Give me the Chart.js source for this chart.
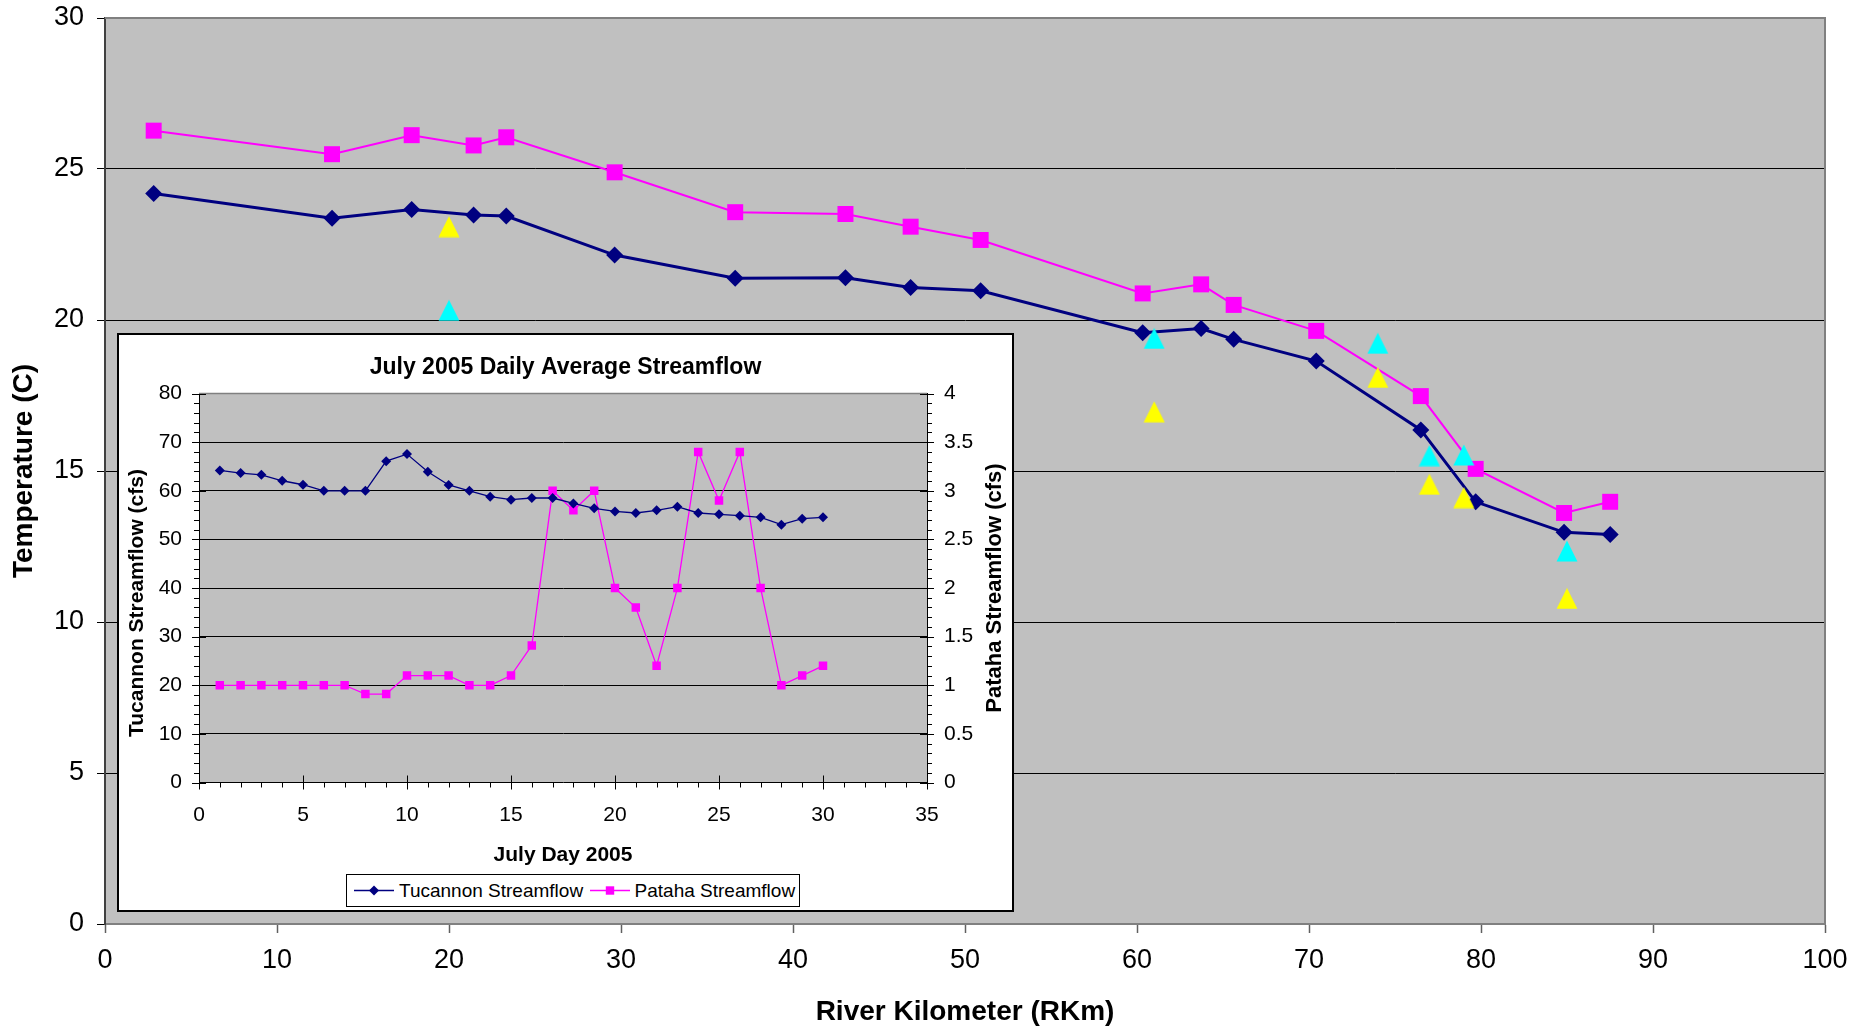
<!DOCTYPE html>
<html>
<head>
<meta charset="utf-8">
<script src="https://cdn.jsdelivr.net/npm/chart.js@4.4.1/dist/chart.umd.min.js"></script>
<style>
  html, body { margin: 0; padding: 0; background: #fff; }
  #wrap { position: relative; width: 1862px; height: 1030px; overflow: hidden; }
  #main { position: absolute; left: 0; top: 0; display: block; }
  #inset { position: absolute; left: 117px; top: 333px; width: 893px; height: 575px; border: 2px solid #000; background: #fff; }
  #sub { position: absolute; left: 0; top: 0; display: block; }
  #lg { position: absolute; left: 227px; top: 539px; width: 452px; height: 31px; border: 1px solid #000; background: #fff;
        font: 19px 'Liberation Sans', Arial, sans-serif; color: #000; }
  #lg svg { position: absolute; top: 0; }
  #lg span { position: absolute; top: 0; line-height: 31px; white-space: nowrap; }
</style>
</head>
<body>
<div id="wrap">
  <canvas id="main" width="1862" height="1030"></canvas>
  <div id="inset">
    <canvas id="sub" width="893" height="575"></canvas>
    <div id="lg"></div>
  </div>
</div>
<script>
// ---------------- Main chart data ----------------
const rkm       = [2.83, 13.2, 17.83, 21.43, 23.33, 29.63, 36.64, 43.05, 46.84, 50.91, 60.33, 63.73, 65.62, 70.42, 76.5, 79.69, 84.83, 87.51];
const tempPink  = [26.27, 25.49, 26.12, 25.78, 26.05, 24.89, 23.57, 23.51, 23.09, 22.65, 20.88, 21.18, 20.5, 19.64, 17.48, 15.07, 13.61, 13.98];
const tempNavy  = [24.19, 23.37, 23.66, 23.48, 23.44, 22.15, 21.38, 21.40, 21.08, 20.97, 19.58, 19.72, 19.36, 18.64, 16.36, 13.98, 12.97, 12.90];
const triRkm    = [20, 61, 74, 77, 79, 85];
const tempYellow = [23.09, 16.96, 18.10, 14.56, 14.12, 10.78];
const tempCyan   = [20.32, 19.39, 19.23, 15.51, 15.53, 12.35];
const mainXTitle = 'River Kilometer (RKm)';
const mainYTitle = 'Temperature (C)';

// ---------------- Inset chart data ----------------
const julyDays     = [1,2,3,4,5,6,7,8,9,10,11,12,13,14,15,16,17,18,19,20,21,22,23,24,25,26,27,28,29,30];
const tucannonFlow = [64.2, 63.65, 63.3, 62.07, 61.25, 60, 60, 60, 66.1, 67.55, 63.92, 61.2, 60, 58.8, 58.17, 58.52, 58.52, 57.4, 56.4, 55.77, 55.44, 56.0, 56.73, 55.44, 55.17, 54.89, 54.55, 53.04, 54.27, 54.55];
const patahaFlow   = [1, 1, 1, 1, 1, 1, 1, 0.91, 0.91, 1.1, 1.1, 1.1, 1, 1, 1.1, 1.41, 3, 2.8, 3, 2, 1.8, 1.2, 2, 3.4, 2.9, 3.4, 2, 1, 1.1, 1.2];
const insetTitle   = 'July 2005 Daily Average Streamflow';
const insetXTitle  = 'July Day 2005';
const insetYTitle  = 'Tucannon Streamflow (cfs)';
const insetY1Title = 'Pataha Streamflow (cfs)';
const seriesNames  = ['Tucannon Streamflow', 'Pataha Streamflow'];

const FONT = "'Liberation Sans', Arial, sans-serif";
const NAVY = '#000080', MAG = '#FF00FF';

function triImg(color) {
  const c = document.createElement('canvas');
  c.width = 22; c.height = 22;
  const g = c.getContext('2d');
  g.fillStyle = color;
  g.beginPath();
  g.moveTo(11, 0.5); g.lineTo(21.5, 21.5); g.lineTo(0.5, 21.5);
  g.closePath(); g.fill();
  return c;
}

const plotBg = {
  id: 'plotBg',
  beforeDraw(chart) {
    const a = chart.chartArea, ctx = chart.ctx;
    ctx.save();
    ctx.fillStyle = '#C0C0C0';
    ctx.fillRect(a.left, a.top, a.right - a.left, a.bottom - a.top);
    ctx.restore();
  }
};

const mainBorder = {
  id: 'mainBorder',
  beforeDatasetsDraw(chart) {
    const a = chart.chartArea, ctx = chart.ctx;
    ctx.save();
    ctx.strokeStyle = '#808080';
    ctx.lineWidth = 2;
    ctx.beginPath();
    ctx.moveTo(a.left, a.top); ctx.lineTo(a.right, a.top); ctx.lineTo(a.right, a.bottom);
    ctx.stroke();
    ctx.restore();
  }
};

const pts = (xs, ys) => xs.map((x, i) => ({ x: x, y: ys[i] }));

new Chart(document.getElementById('main'), {
  type: 'scatter',
  data: {
    datasets: [
      { label: 'Series 1', data: pts(rkm, tempPink), showLine: true, borderColor: MAG, borderWidth: 2,
        pointStyle: 'rect', pointRadius: 11.3, pointBackgroundColor: MAG, pointBorderWidth: 0, order: 4 },
      { label: 'Series 2', data: pts(rkm, tempNavy), showLine: true, borderColor: NAVY, borderWidth: 3,
        pointStyle: 'rectRot', pointRadius: 8.5, pointBackgroundColor: NAVY, pointBorderWidth: 0, order: 3 },
      { label: 'Series 3', data: pts(triRkm, tempYellow), showLine: false,
        pointStyle: triImg('#FFFF00'), pointRadius: 10, order: 2 },
      { label: 'Series 4', data: pts(triRkm, tempCyan), showLine: false,
        pointStyle: triImg('#00FFFF'), pointRadius: 10, order: 1 }
    ]
  },
  options: {
    responsive: false,
    animation: false,
    events: [],
    layout: { padding: { top: 18, right: 37, left: 0, bottom: 0 } },
    plugins: { legend: { display: false }, tooltip: { enabled: false } },
    scales: {
      x: {
        type: 'linear', min: 0, max: 100,
        afterFit: s => { s.height = 106; },
        ticks: { stepSize: 10, color: '#000', padding: 11, font: { family: FONT, size: 27 } },
        grid: { drawOnChartArea: false, drawTicks: true, tickLength: 9, tickColor: '#606060', tickWidth: 1.5 },
        border: { display: true, color: '#808080', width: 2 },
        title: { display: true, text: mainXTitle, color: '#000', padding: { top: 0, bottom: 0.5 },
                 font: { family: FONT, size: 28, weight: 'bold' } }
      },
      y: {
        type: 'linear', min: 0, max: 30,
        afterFit: s => { s.width = 105; s.paddingTop = 0; s.paddingBottom = 0; },
        ticks: { stepSize: 5, color: '#000', padding: 13, font: { family: FONT, size: 27 } },
        grid: {
          color: c => (c.tick && (c.tick.value === 0 || c.tick.value === 30)) ? 'rgba(0,0,0,0)' : '#000',
          lineWidth: 1, drawTicks: true, tickLength: 8, tickColor: '#000'
        },
        border: { display: true, color: '#404040', width: 2 },
        title: { display: true, text: mainYTitle, color: '#000', padding: { top: 7, bottom: 0 },
                 font: { family: FONT, size: 28, weight: 'bold' } }
      }
    }
  },
  plugins: [plotBg, mainBorder]
});

// ---------------- Inset ----------------
const insetDecor = {
  id: 'insetDecor',
  beforeDatasetsDraw(chart) {
    const a = chart.chartArea, ctx = chart.ctx;
    ctx.save();
    ctx.strokeStyle = '#808080';
    ctx.lineWidth = 1.5;
    ctx.beginPath();
    ctx.moveTo(a.left, a.top); ctx.lineTo(a.right, a.top);
    ctx.stroke();
    ctx.restore();
  },
  afterDraw(chart) {
    const a = chart.chartArea, ctx = chart.ctx;
    const sx = chart.scales.x, sy = chart.scales.y, sy1 = chart.scales.y1;
    ctx.save();
    ctx.strokeStyle = '#000';
    ctx.lineWidth = 1;
    ctx.beginPath();
    for (let v = 0; v <= 35; v += 1) {
      const p = Math.round(sx.getPixelForValue(v)) + 0.5;
      const major = v % 5 === 0;
      ctx.moveTo(p, a.bottom + (major ? -7 : 0));
      ctx.lineTo(p, a.bottom + (major ? 7 : 5));
    }
    for (let v = 0; v <= 80; v += 2) {
      const p = Math.round(sy.getPixelForValue(v)) + 0.5;
      const major = v % 10 === 0;
      ctx.moveTo(a.left - (major ? 7 : 5), p);
      ctx.lineTo(a.left + (major ? 7 : 0), p);
    }
    for (let i = 0; i <= 40; i++) {
      const v = i / 10;
      const p = Math.round(sy1.getPixelForValue(v)) + 0.5;
      const major = i % 5 === 0;
      ctx.moveTo(a.right - (major ? 7 : 0), p);
      ctx.lineTo(a.right + (major ? 7 : 5), p);
    }
    ctx.stroke();
    // vertical axis titles (both read bottom-to-top)
    ctx.fillStyle = '#000';
    ctx.textAlign = 'center';
    ctx.textBaseline = 'middle';
    const mid = (a.top + a.bottom) / 2;
    ctx.font = "bold 21px " + FONT;
    ctx.save();
    ctx.translate(18.5, mid + 15);
    ctx.rotate(-Math.PI / 2);
    ctx.fillText(insetYTitle, 0, 0);
    ctx.restore();
    ctx.font = "bold 22px " + FONT;
    ctx.translate(876, mid);
    ctx.rotate(-Math.PI / 2);
    ctx.fillText(insetY1Title, 0, 0);
    ctx.restore();
  }
};

const insetChart = new Chart(document.getElementById('sub'), {
  type: 'line',
  data: {
    datasets: [
      { label: seriesNames[0], data: pts(julyDays, tucannonFlow), yAxisID: 'y',
        borderColor: NAVY, borderWidth: 1.3, pointStyle: 'rectRot', pointRadius: 5,
        pointBackgroundColor: NAVY, pointBorderWidth: 0 },
      { label: seriesNames[1], data: pts(julyDays, patahaFlow), yAxisID: 'y1',
        borderColor: MAG, borderWidth: 1.3, pointStyle: 'rect', pointRadius: 6,
        pointBackgroundColor: MAG, pointBorderWidth: 0 }
    ]
  },
  options: {
    responsive: false,
    animation: false,
    events: [],
    layout: { padding: 0 },
    plugins: {
      legend: { display: false }, tooltip: { enabled: false },
      title: { display: true, text: insetTitle, color: '#000', padding: { top: 18.5, bottom: 12.5 },
               font: { family: FONT, size: 23, weight: 'bold' } }
    },
    scales: {
      x: {
        type: 'linear', min: 0, max: 35,
        afterFit: s => { s.height = 127.5; },
        ticks: { stepSize: 5, color: '#000', padding: 20, font: { family: FONT, size: 21 } },
        grid: { drawOnChartArea: false, drawTicks: false },
        border: { display: true, color: '#000', width: 1 },
        title: { display: true, text: insetXTitle, color: '#000', padding: { top: 0, bottom: 42 },
                 font: { family: FONT, size: 21, weight: 'bold' } }
      },
      y: {
        type: 'linear', position: 'left', min: 0, max: 80,
        afterFit: s => { s.width = 80; s.paddingTop = 0; s.paddingBottom = 0; },
        ticks: { stepSize: 10, color: '#000', padding: 17, font: { family: FONT, size: 21 } },
        grid: { color: c => (c.tick && (c.tick.value === 0 || c.tick.value === 80)) ? 'rgba(0,0,0,0)' : '#000',
                lineWidth: 1, drawTicks: false },
        border: { display: true, color: '#000', width: 1 }
      },
      y1: {
        type: 'linear', position: 'right', min: 0, max: 4,
        afterFit: s => { s.width = 85; s.paddingTop = 0; s.paddingBottom = 0; },
        ticks: { stepSize: 0.5, color: '#000', padding: 17, font: { family: FONT, size: 21 },
                 callback: v => String(v) },
        grid: { drawOnChartArea: false, drawTicks: false },
        border: { display: true, color: '#000', width: 1 }
      }
    }
  },
  plugins: [plotBg, insetDecor]
});

// ---------------- Inset legend (HTML) ----------------
(function buildLegend() {
  const lg = document.getElementById('lg');
  const lineX = [7, 242.6], textX = [52, 287.6];
  insetChart.data.datasets.forEach((ds, i) => {
    const svgNS = 'http://www.w3.org/2000/svg';
    const svg = document.createElementNS(svgNS, 'svg');
    svg.setAttribute('width', '40'); svg.setAttribute('height', '31');
    svg.style.left = lineX[i] + 'px';
    const ln = document.createElementNS(svgNS, 'line');
    ln.setAttribute('x1', '0'); ln.setAttribute('x2', '40');
    ln.setAttribute('y1', '15.5'); ln.setAttribute('y2', '15.5');
    ln.setAttribute('stroke', ds.borderColor); ln.setAttribute('stroke-width', '1.5');
    svg.appendChild(ln);
    let mk;
    if (ds.pointStyle === 'rect') {
      mk = document.createElementNS(svgNS, 'rect');
      mk.setAttribute('x', '15.8'); mk.setAttribute('y', '11.3');
      mk.setAttribute('width', '8.4'); mk.setAttribute('height', '8.4');
    } else {
      mk = document.createElementNS(svgNS, 'polygon');
      mk.setAttribute('points', '20,10.5 25,15.5 20,20.5 15,15.5');
    }
    mk.setAttribute('fill', ds.pointBackgroundColor);
    svg.appendChild(mk);
    lg.appendChild(svg);
    const sp = document.createElement('span');
    sp.textContent = ds.label;
    sp.style.left = textX[i] + 'px';
    lg.appendChild(sp);
  });
})();
</script>
</body>
</html>
